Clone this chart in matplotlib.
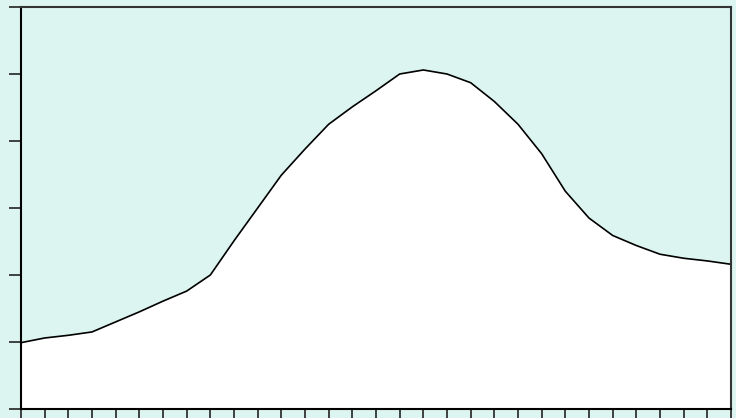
import matplotlib
matplotlib.use("Agg")
import matplotlib.pyplot as plt
import numpy as np

# values (y axis 0..60, 31 evenly spaced points)
values = [9.9, 10.6, 11.0, 11.5, 13.0, 14.5, 16.1, 17.6, 20.0, 25.1,
          30.0, 34.9, 38.8, 42.5, 45.1, 47.5, 50.0, 50.6, 50.0, 48.7,
          45.9, 42.5, 38.1, 32.5, 28.5, 25.9, 24.4, 23.1, 22.5, 22.1,
          21.6]
y_ticks = [0, 10, 20, 30, 40, 50, 60]

BG = "#ddf5f0"

fig = plt.figure(figsize=(7.36, 4.18), dpi=100, facecolor=BG)
ax = fig.add_axes([21 / 736, 9 / 418, 710 / 736, 402 / 418])
ax.set_facecolor(BG)

xx = np.arange(len(values))
ax.fill_between(xx, 0, values, color="white", linewidth=0)
ax.plot(xx, values, color="black", linewidth=1.2)

ax.set_xlim(0, len(values) - 1)
ax.set_ylim(y_ticks[0], y_ticks[-1])
ax.set_xticks(xx)
ax.set_yticks(y_ticks)
ax.set_xticklabels([])
ax.set_yticklabels([])
ax.tick_params(axis="both", direction="out", length=9, width=1.2, color="#222222")

for side in ["left", "bottom"]:
    ax.spines[side].set_linewidth(1.5)
    ax.spines[side].set_color("black")
for side in ["top", "right"]:
    ax.spines[side].set_linewidth(1.5)
    ax.spines[side].set_color("#333333")

fig.savefig("out.png", dpi=100, facecolor=BG)
